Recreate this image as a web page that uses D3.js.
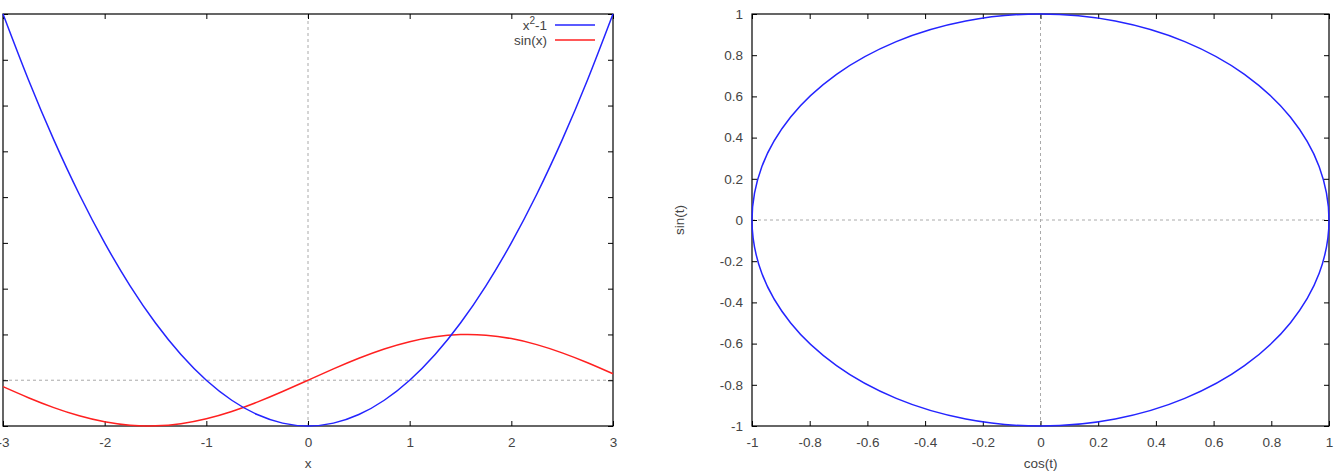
<!DOCTYPE html>
<html><head><meta charset="utf-8">
<script src="https://cdn.jsdelivr.net/npm/d3@7"></script>
<style>body{margin:0;background:#fff}svg{display:block}text{font-family:"Liberation Sans",Arial,sans-serif;font-size:13.5px;fill:#444}</style>
</head><body>
<svg id="c" width="1338" height="471"></svg>
<script>
// Left panel data
const xs = [-3,-2.75,-2.5,-2.25,-2,-1.75,-1.5,-1.25,-1,-0.75,-0.5,-0.25,0,0.25,0.5,0.75,1,1.25,1.5,1.75,2,2.25,2.5,2.75,3];
const parab = [8,6.5625,5.25,4.0625,3,2.0625,1.25,0.5625,0,-0.4375,-0.75,-0.9375,-1,-0.9375,-0.75,-0.4375,0,0.5625,1.25,2.0625,3,4.0625,5.25,6.5625,8];
const sinx = [-0.141,-0.382,-0.598,-0.778,-0.909,-0.984,-0.997,-0.949,-0.841,-0.682,-0.479,-0.247,0,0.247,0.479,0.682,0.841,0.949,0.997,0.984,0.909,0.778,0.598,0.382,0.141];
const leftXTicks = [-3,-2,-1,0,1,2,3];
const leftYTicks = [-1,0,1,2,3,4,5,6,7,8];
// Right panel data
const cost = [1,0.966,0.866,0.707,0.5,0.259,0,-0.259,-0.5,-0.707,-0.866,-0.966,-1,-0.966,-0.866,-0.707,-0.5,-0.259,0,0.259,0.5,0.707,0.866,0.966];
const sint = [0,0.259,0.5,0.707,0.866,0.966,1,0.966,0.866,0.707,0.5,0.259,0,-0.259,-0.5,-0.707,-0.866,-0.966,-1,-0.966,-0.866,-0.707,-0.5,-0.259];
const rightTicks = [-1,-0.8,-0.6,-0.4,-0.2,0,0.2,0.4,0.6,0.8,1];

const svg = d3.select("#c");
const plotTop = 14, plotBottom = 426, tl = 5;
const blue = "#2424ff", red = "#ff2020";
const fmt = d => String(d);

function frame(g, x, y, xt, yt, showY){
  const [x0,x1] = x.range(), [y0,y1] = y.range();
  g.append("line").attr("x1",x(0)).attr("x2",x(0)).attr("y1",y0).attr("y2",y1)
    .attr("stroke","#aaa").attr("stroke-dasharray","3,3");
  g.append("line").attr("x1",x0).attr("x2",x1).attr("y1",y(0)).attr("y2",y(0))
    .attr("stroke","#aaa").attr("stroke-dasharray","3,3");
  const bx = d3.axisBottom(x).tickValues(xt).tickSizeInner(-tl).tickSizeOuter(0).tickPadding(11).tickFormat(fmt);
  const ax = g.append("g").attr("transform",`translate(0,${y0})`).call(bx);
  const tx = d3.axisTop(x).tickValues(xt).tickSizeInner(-tl).tickSizeOuter(0).tickFormat("");
  const at = g.append("g").attr("transform",`translate(0,${y1})`).call(tx);
  const ly = d3.axisLeft(y).tickValues(yt).tickSizeInner(-tl).tickSizeOuter(0).tickPadding(9).tickFormat(showY?fmt:"");
  const al = g.append("g").attr("transform",`translate(${x0},0)`).call(ly);
  const ry = d3.axisRight(y).tickValues(yt).tickSizeInner(-tl).tickSizeOuter(0).tickFormat("");
  const ar = g.append("g").attr("transform",`translate(${x1},0)`).call(ry);
  [ax,at,al,ar].forEach(a=>{a.select(".domain").remove();a.selectAll("line").attr("stroke","#000");
    a.selectAll("text").attr("font-family",null).attr("font-size",null).attr("fill",null);});
  g.append("rect").attr("x",x0).attr("y",y1).attr("width",x1-x0).attr("height",y0-y1)
    .attr("fill","none").attr("stroke","#000").attr("stroke-width",1.2);
}

// Left
const gl = svg.append("g");
const xL = d3.scaleLinear().domain([-3,3]).range([3,613]);
const yL = d3.scaleLinear().domain([-1,8]).range([plotBottom,plotTop]);
frame(gl,xL,yL,leftXTicks,leftYTicks,false);
const lineL = d3.line().curve(d3.curveNatural);
gl.append("path").attr("d",lineL(xs.map((v,i)=>[xL(v),yL(sinx[i])]))).attr("fill","none").attr("stroke",red).attr("stroke-width",1.5);
gl.append("path").attr("d",lineL(xs.map((v,i)=>[xL(v),yL(parab[i])]))).attr("fill","none").attr("stroke",blue).attr("stroke-width",1.5);
gl.append("text").attr("x",xL(0)).attr("y",468).attr("text-anchor","middle").text("x");
const lt = gl.append("text").attr("x",547).attr("y",30).attr("text-anchor","end");
lt.append("tspan").text("x");
lt.append("tspan").attr("dy",-6).attr("font-size","10px").text("2");
lt.append("tspan").attr("dy",6).text("-1");
gl.append("line").attr("x1",555).attr("x2",595).attr("y1",25).attr("y2",25).attr("stroke",blue).attr("stroke-width",1.5);
gl.append("text").attr("x",547).attr("y",45).attr("text-anchor","end").text("sin(x)");
gl.append("line").attr("x1",555).attr("x2",595).attr("y1",40).attr("y2",40).attr("stroke",red).attr("stroke-width",1.5);

// Right
const gr = svg.append("g");
const xR = d3.scaleLinear().domain([-1,1]).range([752,1329]);
const yR = d3.scaleLinear().domain([-1,1]).range([plotBottom,plotTop]);
frame(gr,xR,yR,rightTicks,rightTicks,true);
const lineR = d3.line().curve(d3.curveCatmullRomClosed.alpha(0.5));
gr.append("path").attr("d",lineR(cost.map((v,i)=>[xR(v),yR(sint[i])]))).attr("fill","none").attr("stroke",blue).attr("stroke-width",1.5);
gr.append("text").attr("x",xR(0)).attr("y",468).attr("text-anchor","middle").text("cos(t)");
gr.append("text").attr("transform",`translate(684,${yR(0)}) rotate(-90)`).attr("text-anchor","middle").text("sin(t)");
</script>
</body></html>
